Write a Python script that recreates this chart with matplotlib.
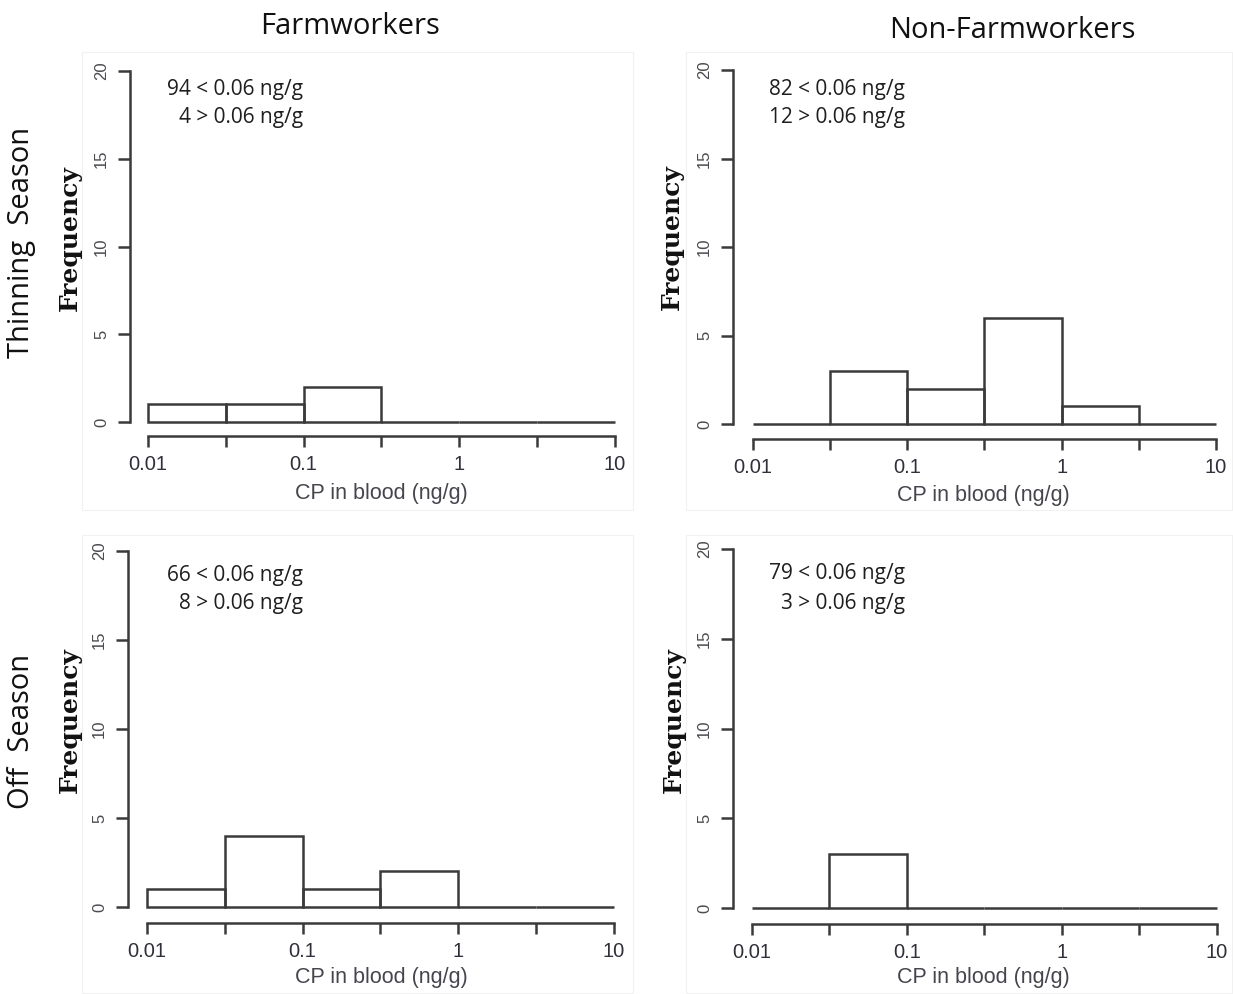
import numpy as np
import matplotlib
matplotlib.use("Agg")
import matplotlib.pyplot as plt
from matplotlib.patches import Rectangle

# ---- data -------------------------------------------------------------
# half-decade bin edges of CP concentration in blood (ng/g)
bin_edges = [0.01, 0.0316, 0.1, 0.316, 1.0, 3.16, 10.0]

# detected-sample counts per bin
farm_thinning = [1, 1, 2, 0, 0, 0]
nonfarm_thinning = [0, 3, 2, 6, 1, 0]
farm_off = [1, 4, 1, 2, 0, 0]
nonfarm_off = [0, 3, 0, 0, 0, 0]

# samples below / above the 0.06 ng/g detection limit
below_limit = [94, 82, 66, 79]
above_limit = [4, 12, 8, 3]

col_titles = ["Farmworkers", "Non-Farmworkers"]
row_titles = ["Thinning  Season", "Off  Season"]
x_tick_vals = [0.01, 0.1, 1, 10]
x_tick_labels = ["0.01", "0.1", "1", "10"]
x_minor_vals = [0.0316, 0.316, 3.16]
y_tick_vals = [0, 5, 10, 15, 20]

# ---- layout (pixels, origin top-left) --------------------------------
W, H = 1233, 994
DPI = 100
fig = plt.figure(figsize=(W / DPI, H / DPI), dpi=DPI)
fig.patch.set_facecolor("white")

LINE = "#3a3a3a"
LW = 1.8
PT = 72.0 / DPI


def fx(x):
    return x / W


def fy(y):
    return 1 - y / H


# plot area: x of 0.01, x of 10, y of 20, y of 0, y-axis x, x-axis y
layouts = [
    dict(area=(148, 615, 71, 422), yaxis=130, xaxis=436, frame=(82, 633, 52, 510),
         ann=(303, 90, 118), freq=(70, 238), xlab=(381, 493)),
    dict(area=(753, 1216, 70, 424), yaxis=733, xaxis=439, frame=(686, 1232, 52, 510),
         ann=(905, 90, 118), freq=(672, 237), xlab=(983, 495)),
    dict(area=(147, 614, 551, 907), yaxis=128, xaxis=923, frame=(82, 633, 535, 993),
         ann=(303, 575, 603), freq=(70, 720), xlab=(381, 978)),
    dict(area=(752, 1217, 549, 908), yaxis=733, xaxis=924, frame=(686, 1232, 535, 993),
         ann=(905, 574, 603), freq=(674, 720), xlab=(983, 978)),
]
series = [farm_thinning, nonfarm_thinning, farm_off, nonfarm_off]

# faint panel frames
for lay in layouts:
    l, r, t, b = lay["frame"]
    fig.patches.append(Rectangle((fx(l), fy(b)), fx(r) - fx(l), fy(t) - fy(b),
                                 transform=fig.transFigure, fill=False,
                                 edgecolor="#f1f1f1", linewidth=0.8, zorder=0))

widths = np.diff(bin_edges)

for counts, lay, nb, na in zip(series, layouts, below_limit, above_limit):
    x0, x1, ytop, y0 = lay["area"]
    ax = fig.add_axes([fx(x0), fy(y0), fx(x1) - fx(x0), fy(ytop) - fy(y0)])
    ax.set_facecolor("none")
    ax.bar(bin_edges[:-1], counts, width=widths, align="edge", fill=False,
           edgecolor=LINE, linewidth=LW, clip_on=False)
    ax.set_xscale("log")
    ax.set_xlim(bin_edges[0], bin_edges[-1])
    ax.set_ylim(0, 20)

    for s in ("top", "right"):
        ax.spines[s].set_visible(False)
    ax.spines["left"].set_position(("outward", (x0 - lay["yaxis"]) * PT))
    ax.spines["bottom"].set_position(("outward", (lay["xaxis"] - y0) * PT))
    ax.spines["left"].set_bounds(0, 20)
    ax.spines["bottom"].set_bounds(bin_edges[0], bin_edges[-1])
    for s in ("left", "bottom"):
        ax.spines[s].set_color(LINE)
        ax.spines[s].set_linewidth(LW)
        ax.spines[s].set_capstyle("projecting")

    ax.set_xticks(x_tick_vals)
    ax.set_xticklabels(x_tick_labels)
    ax.set_xticks(x_minor_vals, minor=True)
    ax.xaxis.set_minor_formatter(matplotlib.ticker.NullFormatter())
    ax.tick_params(axis="x", which="both", direction="out", length=11 * PT,
                   width=LW, color=LINE, pad=8 * PT)
    ax.tick_params(axis="x", which="major", labelsize=14.5, labelcolor="#30303a")
    for t in ax.get_xticklabels():
        t.set_fontfamily("Liberation Sans")

    ax.set_yticks(y_tick_vals)
    ax.set_yticklabels([str(v) for v in y_tick_vals], rotation=90, va="center")
    ax.tick_params(axis="y", direction="out", length=12 * PT, width=LW,
                   color=LINE, labelsize=12, labelcolor="#4a4a50", pad=9 * PT)
    for t in ax.get_yticklabels():
        t.set_fontfamily("Liberation Sans")

    # detection-limit summary
    ax_r, ay1, ay2 = lay["ann"]
    fig.text(fx(ax_r), fy(ay1), f"{nb} < 0.06 ng/g", ha="right", va="center",
             fontsize=15, family="Open Sans", color="#1e1e1e")
    fig.text(fx(ax_r), fy(ay2), f"{na} > 0.06 ng/g", ha="right", va="center",
             fontsize=15, family="Open Sans", color="#1e1e1e")

    fx_, fy_ = lay["freq"]
    fig.text(fx(fx_), fy(fy_), "Frequency", rotation=90, ha="center", va="center",
             fontsize=18, family="DejaVu Serif", weight="bold", color="#111111")
    lx, ly = lay["xlab"]
    fig.text(fx(lx), fy(ly), "CP in blood (ng/g)", ha="center", va="center",
             fontsize=15.5, family="Liberation Sans", color="#45454d")

# column and row headings
fig.text(fx(350), fy(27), col_titles[0], ha="center", va="center",
         fontsize=21, family="Open Sans", color="#111111")
fig.text(fx(1012), fy(30), col_titles[1], ha="center", va="center",
         fontsize=21, family="Open Sans", color="#111111")
fig.text(fx(22), fy(242), row_titles[0], rotation=90, ha="center", va="center",
         fontsize=21, family="Open Sans", color="#111111")
fig.text(fx(22), fy(731), row_titles[1], rotation=90, ha="center", va="center",
         fontsize=21, family="Open Sans", color="#111111")

fig.savefig("out.png", dpi=DPI)
